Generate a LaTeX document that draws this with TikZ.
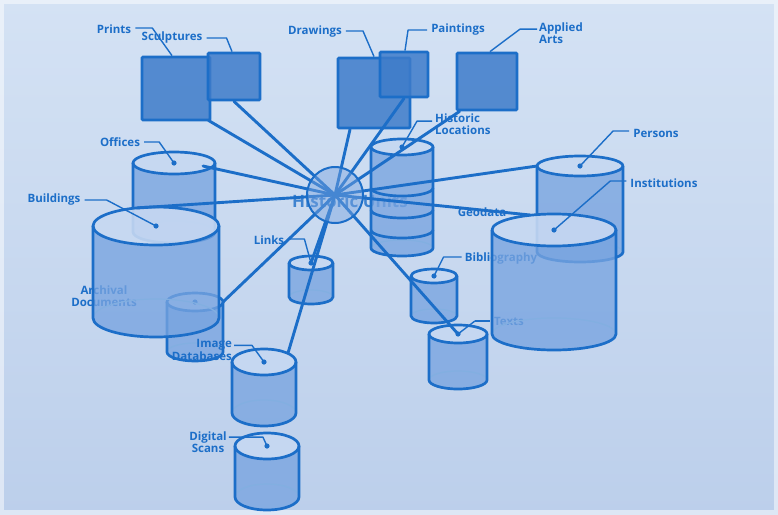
\documentclass[tikz,border=0pt]{standalone}
\usepackage{fontspec}
\setmainfont{Open Sans}
\usetikzlibrary{calc}
\definecolor{lb}{RGB}{28,110,200}
\definecolor{boxblue}{RGB}{62,124,202}
\definecolor{cylblue}{RGB}{120,164,224}
\definecolor{toplight}{RGB}{198,216,242}
\definecolor{bgtop}{RGB}{212,226,244}
\definecolor{bgbot}{RGB}{188,207,235}
\tikzset{
 lbl/.style={font=\bfseries\fontsize{11.5}{12.5}\selectfont, text=lb, inner sep=0pt, align=center},
 leader/.style={draw=lb, line width=1.4pt, line join=round},
 spoke/.style={draw=lb, line width=2.9pt, line cap=round},
 cylline/.style={draw=lb, line width=2.7pt, line join=round},
 cylback/.style={draw=lb!55!white, line width=1.2pt},
 cylbodyfill/.style={fill=cylblue, fill opacity=0.78},
 cyltopfill/.style={fill=toplight, fill opacity=0.9},
 box/.style={draw=lb, line width=2.8pt, fill=boxblue, fill opacity=0.85, rounded corners=1pt, inner sep=0pt},
}
\newcommand{\mycyl}[6]{%
  \fill[cylbodyfill] (#2-#5,#3) -- (#2-#5,#4) arc[start angle=180,end angle=0,x radius=#5,y radius=#6] -- (#2+#5,#3) arc[start angle=0,end angle=180,x radius=#5,y radius=#6] -- cycle;
  \draw[cylback] (#2+#5,#4) arc[start angle=0,end angle=-180,x radius=#5,y radius=#6];
  \fill[cyltopfill] (#2,#3) ellipse[x radius=#5,y radius=#6];
  \draw[cylline] (#2-#5,#3) -- (#2-#5,#4) arc[start angle=180,end angle=0,x radius=#5,y radius=#6] -- (#2+#5,#3);
  \draw[cylline] (#2,#3) ellipse[x radius=#5,y radius=#6];
  \coordinate (#1) at (#2,#3);
  \coordinate (#1-w) at (#2-#5,#3);
  \coordinate (#1-e) at (#2+#5,#3);
}
\newcommand{\mydot}[1]{\fill[lb] (#1) circle (2.6pt);}
\begin{document}
\begin{tikzpicture}[x=1pt,y=-1pt]
\useasboundingbox (0,0) rectangle (778,514);
\shade[top color=bgtop, bottom color=bgbot] (0,0) rectangle (778,514);
\draw[white, opacity=0.5, line width=8pt] (0,0) rectangle (778,514);

% hub label (behind)
\node[font=\bfseries\fontsize{17}{18}\selectfont, text=lb, text opacity=0.8, inner sep=0pt] (hublabel) at (350,201) {Historic Units};

% left cylinders
\mycyl{offices}{174}{163}{232}{41}{11}
\node[lbl] (archlbl) at (104,296) {Archival\\Documents};
\mycyl{archival}{195}{302}{352}{28}{9}
\mydot{archival}
\mycyl{buildings}{156}{226}{318}{63}{19}

% right cylinders
\mycyl{persons}{580}{166}{252}{43}{10}
\node[lbl] (geolbl) at (482,212) {Geodata};
\node[lbl] (biblbl) at (501,259) {Bibliography};
\node[lbl] (textslbl) at (509,321) {Texts};
\draw[leader] (textslbl.west) ++(-4,0) -- ++(-15,0) coordinate (tl1);
\mycyl{institutions}{554}{230}{334}{62}{16}

% historic locations stack
\mycyl{histloc}{402}{147}{248}{31}{8}
\foreach \yy in {188,210,230}{
  \draw[cylline] (371,\yy) arc[start angle=180,end angle=0,x radius=31,y radius=8];
}
\mycyl{links}{311}{263}{297}{22}{7}
\mycyl{bibliography}{434}{276}{316}{23}{7}
\mycyl{texts}{458}{334}{380}{29}{9}
\mycyl{imagedb}{264}{362}{413}{32}{13}
\mycyl{digital}{267}{446}{497}{32}{13}

% boxes
\node[box, minimum width=68pt, minimum height=63pt] (prints) at (176,88.5) {};
\node[box, minimum width=52pt, minimum height=47pt] (sculptures) at (234,76.5) {};
\node[box, minimum width=72pt, minimum height=70pt] (drawings) at (374,93) {};
\node[box, minimum width=48pt, minimum height=45pt] (paintings) at (404,74.5) {};
\node[box, minimum width=60pt, minimum height=57pt] (applied) at (487,81.5) {};

% spokes
\coordinate (hubc) at (335,195);
\draw[spoke] (hubc) -- ($(prints.south east)+(-3,-1)$);
\draw[spoke] (hubc) -- (sculptures.south);
\draw[spoke] (hubc) -- ($(drawings.south)+(-24,0)$);
\draw[spoke] (hubc) -- (paintings.south);
\draw[spoke] (hubc) -- ($(applied.south west)+(4,0)$);
\draw[spoke] (hubc) -- ($(offices-e)+(-12,3)$);
\draw[spoke] (hubc) -- ($(buildings)+(-19,-18)$);
\draw[spoke] (hubc) -- (archival-e);
\draw[spoke] (hubc) -- (links);
\draw[spoke] (hubc) -- ($(imagedb)+(24,-9)$);
\draw[spoke] (hubc) -- (texts);
\draw[spoke] (hubc) -- (persons-w);
\draw[spoke] (hubc) -- ($(institutions)+(-24,-15)$);
\node[circle, draw=lb, line width=2pt, fill=cylblue, fill opacity=0.45, minimum size=56pt, inner sep=0pt] (hub) at (hubc) {};

% labels
\node[lbl] (printslbl) at (114,29) {Prints};
\node[lbl] (sculptlbl) at (172,38) {Sculptures};
\node[lbl] (drawlbl) at (315,32) {Drawings};
\node[lbl] (paintlbl) at (458,30) {Paintings};
\node[lbl, anchor=west, align=left] (appliedlbl) at (539,33) {Applied\\Arts};
\node[lbl, anchor=west, align=left] (histloclbl) at (435,124) {Historic\\Locations};
\node[lbl] (officeslbl) at (120,142) {Offices};
\node[lbl] (buildlbl) at (54,200) {Buildings};
\node[lbl, align=right, anchor=east] (imglbl) at (232,350) {Image\\Databases};
\node[lbl] (linkslbl) at (269,240) {Links};
\node[lbl] (digitallbl) at (208,442) {Digital\\Scans};
\node[lbl] (personslbl) at (656,133) {Persons};
\node[lbl] (instlbl) at (664,183) {Institutions};

% leaders
\draw[leader] ($(printslbl.east)+(4,-1)$) -- ++(17,0) -- ($(prints.north)+(-4,0)$);
\draw[leader] ($(sculptlbl.east)+(4,0)$) -- ++(20,0) -- ($(sculptures.north)+(-2,0)$);
\draw[leader] ($(drawlbl.east)+(4,-1)$) -- ++(17,0) -- (drawings.north);
\draw[leader] ($(paintlbl.west)+(-4,0)$) -- ++(-19,0) -- ($(paintings.north)+(1,0)$);
\draw[leader] ($(appliedlbl.north west)+(-2,7)$) -- ++(-17,0) -- ($(applied.north)+(3,0)$);
\draw[leader] ($(histloclbl.north west)+(-3,8)$) -- ++(-15,0) -- (histloc);
\draw[leader] ($(officeslbl.east)+(4,0)$) -- ++(15,0) -- (offices);
\draw[leader] ($(buildlbl.east)+(4,0)$) -- ++(22,0) -- (buildings);
\draw[leader] ($(imglbl.north east)+(2,6)$) -- ++(18,0) -- (imagedb);
\draw[leader] ($(linkslbl.east)+(4,-1)$) -- ++(16,0) -- (links);
\draw[leader] ($(digitallbl.north east)+(2,6)$) -- ++(34,0) -- (digital);
\draw[leader] ($(personslbl.west)+(-4,-2)$) -- ++(-16,0) -- (persons);
\draw[leader] ($(instlbl.west)+(-4,-2)$) -- ++(-16,0) -- (institutions);
\draw[leader] ($(biblbl.west)+(-3,-2)$) -- ++(-18,0) -- (bibliography);
\draw[leader] (tl1) -- (texts);

\mydot{offices}\mydot{buildings}\mydot{imagedb}\mydot{digital}\mydot{links}
\mydot{persons}\mydot{institutions}\mydot{bibliography}\mydot{texts}\mydot{histloc}
\end{tikzpicture}
\end{document}
